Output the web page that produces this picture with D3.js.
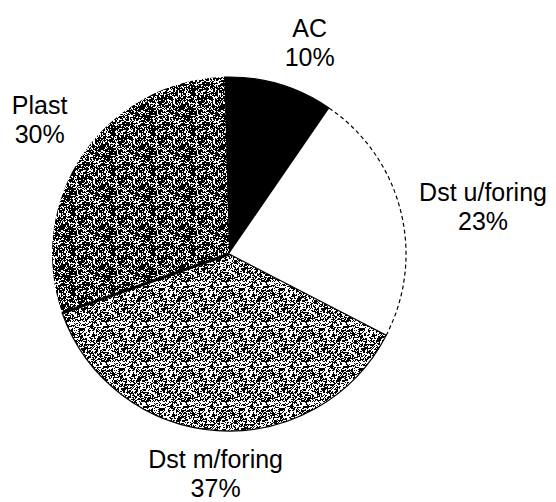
<!DOCTYPE html>
<html>
<head>
<meta charset="utf-8">
<script src="https://cdnjs.cloudflare.com/ajax/libs/d3/7.8.5/d3.min.js"></script>
<style>
  html, body { margin: 0; padding: 0; background: #fff; }
  svg { display: block; }
  .label { font-family: "Liberation Sans", Arial, sans-serif; font-size: 25px; fill: #000; }
</style>
</head>
<body>
<script>
(function(){

// chart data
var categories = ["AC", "Dst u/foring", "Dst m/foring", "Plast"];
var shares = [10, 23, 37, 30];
var shareLabels = ["10%", "23%", "37%", "30%"];

// frame
var width = 556,
    height = 502,
    cx = 229,
    cy = 254,
    radius = 177,
    labelRadius = 196,
    lineHeight = 29,
    capHeight = 18,
    tilt = -0.026; // scan is turned a little

var svg = d3.select("body")
    .append("svg")
    .attr("width", width)
    .attr("height", height);

var defs = svg.append("defs");

// small integer hash for the stipple tiles
function hash(x, y, seed){
    var h = Math.imul(x, 374761393) + Math.imul(y, 668265263) + Math.imul(seed, 1442695041);
    h = Math.imul(h ^ (h >>> 13), 1274126177);
    h = h ^ (h >>> 16);
    return (h >>> 0) / 4294967296;
}

// stipple pattern, density = share of black pixels
function makeStipple(id, density, seed){
    var size = 40;
    var pat = defs.append("pattern")
        .attr("id", id)
        .attr("patternUnits", "userSpaceOnUse")
        .attr("width", size)
        .attr("height", size);
    pat.append("rect")
        .attr("width", size)
        .attr("height", size)
        .attr("fill", "#fff");
    var cells = [];
    for (var y = 0; y < size; y++){
        for (var x = 0; x < size; x++){
            // mix fine and coarse noise so it reads like the scanned maze texture
            var v = hash(x, y, seed) * 0.6 + hash(x >> 1, y >> 1, seed + 7) * 0.4;
            if (v < density) cells.push([x, y]);
        }
    }
    pat.selectAll("rect.px")
        .data(cells)
        .enter()
        .append("rect")
        .attr("class", "px")
        .attr("x", function(d){ return d[0]; })
        .attr("y", function(d){ return d[1]; })
        .attr("width", 1)
        .attr("height", 1)
        .attr("fill", "#000")
        .attr("shape-rendering", "crispEdges");
}

makeStipple("stippleLight", 0.5, 3);
makeStipple("stippleDark", 0.6, 11);

var fillFor = {
    "AC": "#000",
    "Dst u/foring": "#fff",
    "Dst m/foring": "url(#stippleLight)",
    "Plast": "url(#stippleDark)"
};

var slices = categories.map(function(c, i){
    return { name: c, value: shares[i], pct: shareLabels[i] };
});

var pie = d3.pie()
    .sort(null)
    .value(function(d){ return d.value; })
    .startAngle(tilt)
    .endAngle(tilt + 2 * Math.PI);

var arcs = pie(slices);

var arc = d3.arc()
    .innerRadius(0)
    .outerRadius(radius);

var g = svg.append("g")
    .attr("transform", "translate(" + cx + "," + cy + ")");

g.selectAll(".slice")
    .data(arcs)
    .enter()
    .append("path")
    .attr("class", "slice")
    .attr("d", arc)
    .attr("fill", function(d){ return fillFor[d.data.name]; })
    .attr("stroke", function(d){
        return (d.data.name == "AC" || d.data.name == "Dst m/foring") ? "#000" : "none";
    })
    .attr("stroke-width", 1.2);

// dashed outer edge of the white slice
var white = arcs[1];
var wp = d3.path();
wp.arc(0, 0, radius, white.startAngle - Math.PI / 2, white.endAngle - Math.PI / 2);
g.append("path")
    .attr("d", wp.toString())
    .attr("fill", "none")
    .attr("stroke", "#000")
    .attr("stroke-width", 1.2)
    .attr("stroke-dasharray", "4,3");

// dark seam between Plast and Dst m/foring
var seam = arcs[2].endAngle;
g.append("line")
    .attr("x1", 0)
    .attr("y1", 0)
    .attr("x2", radius * Math.sin(seam))
    .attr("y2", -radius * Math.cos(seam))
    .attr("stroke", "#000")
    .attr("stroke-width", 3);

// labels, hung off a point just outside the pie at each slice's mid angle
var labels = g.selectAll(".lab")
    .data(arcs)
    .enter()
    .append("g")
    .attr("class", "lab");

labels.each(function(d){
    var lg = d3.select(this);
    var t = lg.append("text")
        .attr("class", "label")
        .attr("text-anchor", "middle");
    t.append("tspan").attr("x", 0).attr("y", 0).text(d.data.name);
    t.append("tspan").attr("x", 0).attr("y", lineHeight).text(d.data.pct);

    // visual box: cap top of line 1 to baseline of line 2
    var bb = t.node().getBBox();
    var w = bb.width, h = capHeight + lineHeight;

    var mid = (d.startAngle + d.endAngle) / 2;
    var sx = Math.sin(mid), sy = -Math.cos(mid);
    var px = labelRadius * sx, py = labelRadius * sy;

    var left;
    if (Math.abs(sx) < 0.12) left = px - w / 2;
    else if (sx > 0) left = px;
    else left = px - w;

    var top;
    if (Math.abs(sy) < 0.3) top = py - h / 2;
    else if (sy < 0) top = py - h;
    else top = py;

    lg.attr("transform", "translate(" + (left - bb.x) + "," + (top + capHeight) + ")");
});

})();
</script>
</body>
</html>
